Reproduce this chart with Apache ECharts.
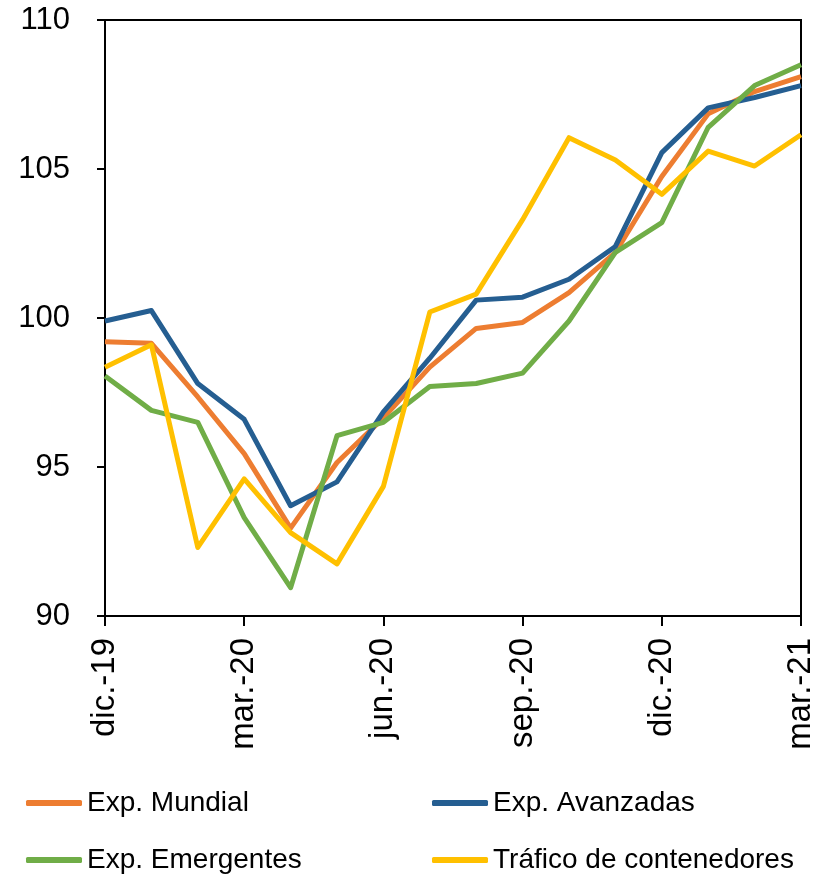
<!DOCTYPE html>
<html>
<head>
<meta charset="utf-8">
<script src="https://cdn.jsdelivr.net/npm/echarts@6/dist/echarts.min.js"></script>
<style>
  html, body { margin: 0; padding: 0; background: #fff; }
  #chart { width: 818px; height: 876px; }
</style>
</head>
<body>
<div id="chart"></div>
<script>
var chartDom = document.getElementById("chart")
var chart = echarts.init(chartDom)

// monthly index values, dic-19 .. mar-21
var months = [
  "dic.-19", "ene.-20", "feb.-20", "mar.-20", "abr.-20", "may.-20",
  "jun.-20", "jul.-20", "ago.-20", "sep.-20", "oct.-20", "nov.-20",
  "dic.-20", "ene.-21", "feb.-21", "mar.-21"
]
var expMundial = [99.2, 99.15, 97.35, 95.45, 92.95, 95.15, 96.65, 98.35, 99.65, 99.85, 100.85, 102.2, 104.75, 106.85, 107.6, 108.1]
var expAvanzadas = [99.9, 100.25, 97.8, 96.6, 93.7, 94.5, 96.85, 98.65, 100.6, 100.7, 101.3, 102.4, 105.55, 107.05, 107.4, 107.8]
var expEmergentes = [98.05, 96.9, 96.5, 93.3, 90.95, 96.05, 96.5, 97.7, 97.8, 98.15, 99.9, 102.2, 103.2, 106.4, 107.8, 108.5]
var trafico = [98.35, 99.1, 92.3, 94.6, 92.8, 91.75, 94.35, 100.2, 100.8, 103.3, 106.05, 105.3, 104.15, 105.6, 105.1, 106.15]

var seriesNames = ["Exp. Mundial", "Exp. Avanzadas", "Exp. Emergentes", "Tráfico de contenedores"]
var seriesData = [expMundial, expAvanzadas, expEmergentes, trafico]
var colors = ["#ED7D31", "#255E91", "#70AD47", "#FFC000"]

var fontName = "Liberation Sans"

function getLegend(name, left, top) {
  return {
    data: [name],
    left: left,
    top: top,
    padding: 0,
    icon: "roundRect",
    itemWidth: 56,
    itemHeight: 6,
    selectedMode: false,
    textStyle: { fontFamily: fontName, fontSize: 28, color: "#000" },
  }
}

function getSeries() {
  var out = []
  for (var i = 0; i < seriesNames.length; i++) {
    out.push({
      name: seriesNames[i],
      type: "line",
      data: seriesData[i],
      showSymbol: false,
      symbol: "none",
      color: colors[i],
      lineStyle: { width: 5, color: colors[i], join: "round" },
      animation: false,
    })
  }
  return out
}

var option = {
  backgroundColor: "#fff",
  animation: false,
  grid: {
    left: 105,
    right: 17,
    top: 20,
    bottom: 260,
    show: true,
    borderColor: "#000",
    borderWidth: 2,
  },
  legend: [
    getLegend(seriesNames[0], 26, 789),
    getLegend(seriesNames[1], 432, 789),
    getLegend(seriesNames[2], 26, 846),
    getLegend(seriesNames[3], 432, 846),
  ],
  xAxis: {
    type: "category",
    data: months,
    boundaryGap: false,
    axisLine: { lineStyle: { color: "#000", width: 2 } },
    axisTick: { show: true, interval: 2, length: 10, lineStyle: { color: "#000", width: 2 } },
    axisLabel: {
      interval: 2,
      rotate: 90,
      margin: 22,
      color: "#000",
      fontFamily: fontName,
      fontSize: 33,
    },
    splitLine: { show: false },
  },
  yAxis: {
    type: "value",
    min: 90,
    max: 110,
    interval: 5,
    axisLine: { show: true, lineStyle: { color: "#000", width: 2 } },
    axisTick: { show: true, length: 8, lineStyle: { color: "#000", width: 2 } },
    axisLabel: {
      margin: 35,
      color: "#000",
      fontFamily: fontName,
      fontSize: 31,
    },
    splitLine: { show: false },
  },
  series: getSeries(),
}

chart.setOption(option)
</script>
</body>
</html>
